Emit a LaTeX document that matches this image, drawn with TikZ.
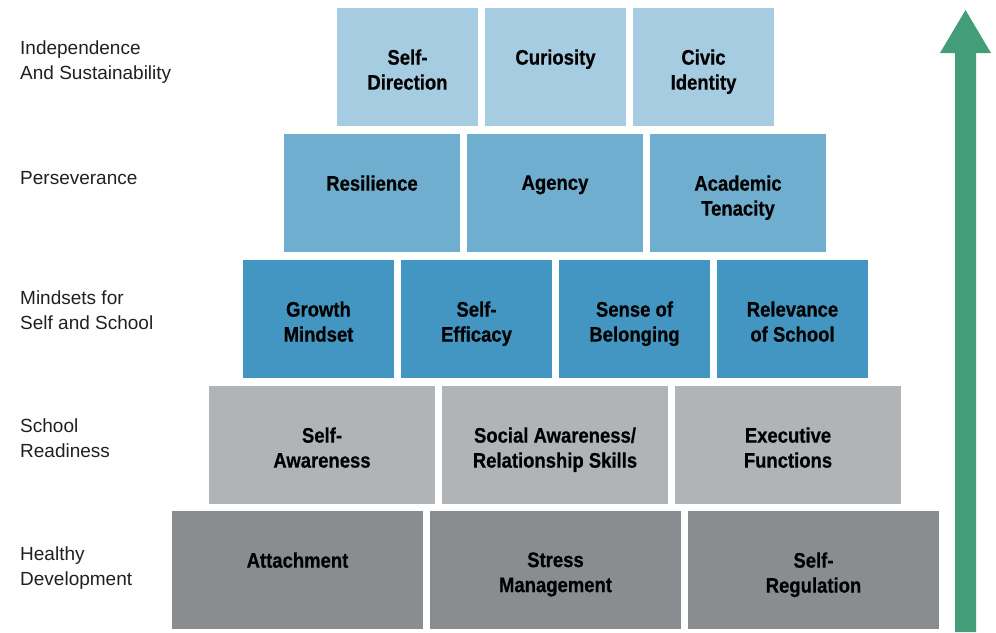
\documentclass[tikz,border=0pt]{standalone}
\usepackage{fontspec}
\setmainfont{Liberation Sans}
\newfontfamily\tilefont{Liberation Sans}[FakeStretch=0.88, FakeBold=0.6]
\usepackage{tikz}
\usetikzlibrary{positioning}

\definecolor{rowone}{RGB}{165,204,225}
\definecolor{rowtwo}{RGB}{111,174,206}
\definecolor{rowthree}{RGB}{67,150,193}
\definecolor{rowfour}{RGB}{177,180,183}
\definecolor{rowfive}{RGB}{138,141,144}
\definecolor{arrowgreen}{RGB}{67,157,121}
\definecolor{labelgray}{RGB}{35,31,32}

\begin{document}
\begin{tikzpicture}[x=1pt, y=-1pt,
		tile/.style={draw=none, minimum height=117.5pt, inner sep=0pt, anchor=north},
		tilename/.style={anchor=north, align=center, inner sep=0pt, yshift=-41.2pt, text=black,
			font=\tilefont\bfseries\fontsize{21}{25}\selectfont},
		level/.style={anchor=north west, align=left, inner sep=0pt, text=labelgray,
			font=\fontsize{19}{24.2}\selectfont}]
				\useasboundingbox (0, 0) rectangle (996, 632);

				% levels
				\node[level] (lindep) at (20, 41) {Independence\\And Sustainability};
				\node[level] (lpers) at (20, 171) {Perseverance};
				\node[level] (lmind) at (20, 291) {Mindsets for\\Self and School};
				\node[level] (lready) at (20, 419) {School\\Readiness};
				\node[level] (lhealth) at (20, 547) {Healthy\\Development};

				% top row
				\node[tile, fill=rowone, minimum width=141pt] (selfdir) at (407.5, 8) {};
				\node[tile, fill=rowone, minimum width=141pt] (curio) at (555.5, 8) {};
				\node[tile, fill=rowone, minimum width=141pt] (civic) at (703.5, 8) {};
				\node[tilename] at (selfdir.north) {Self-\\Direction};
				\node[tilename] at (curio.north) {Curiosity};
				\node[tilename] at (civic.north) {Civic\\Identity};

				\node[tile, fill=rowtwo, minimum width=176pt] (resil) at (372, 134) {};
				\node[tile, fill=rowtwo, minimum width=176pt] (agency) at (555, 134) {};
				\node[tile, fill=rowtwo, minimum width=176pt] (tenacity) at (738, 134) {};
				\node[tilename] at (resil.north) {Resilience};
				\node[tilename] at (agency.north) {Agency};
				\node[tilename] at (tenacity.north) {Academic\\Tenacity};

				\node[tile, fill=rowthree, minimum width=151pt] (growth) at (318.5, 260) {};
				\node[tile, fill=rowthree, minimum width=151pt] (efficacy) at (476.5, 260) {};
				\node[tile, fill=rowthree, minimum width=151pt] (belong) at (634.5, 260) {};
				\node[tile, fill=rowthree, minimum width=151pt] (relevance) at (792.5, 260) {};
				\node[tilename] at (growth.north) {Growth\\Mindset};
				\node[tilename] at (efficacy.north) {Self-\\Efficacy};
				\node[tilename] at (belong.north) {Sense of\\Belonging};
				\node[tilename] at (relevance.north) {Relevance\\of School};

				\node[tile, fill=rowfour, minimum width=226pt] (awareness) at (322, 386) {};
				\node[tile, fill=rowfour, minimum width=226pt] (social) at (555, 386) {};
				\node[tile, fill=rowfour, minimum width=226pt] (exec) at (788, 386) {};
				\node[tilename] at (awareness.north) {Self-\\Awareness};
				\node[tilename] at (social.north) {Social Awareness/\\Relationship Skills};
				\node[tilename] at (exec.north) {Executive\\Functions};

				% base row
				\node[tile, fill=rowfive, minimum width=251pt] (attach) at (297.5, 511) {};
				\node[tile, fill=rowfive, minimum width=251pt] (stress) at (555.5, 511) {};
				\node[tile, fill=rowfive, minimum width=251pt] (selfreg) at (813.5, 511) {};
				\node[tilename] at (attach.north) {Attachment};
				\node[tilename] at (stress.north) {Stress\\Management};
				\node[tilename] at (selfreg.north) {Self-\\Regulation};

				\fill[arrowgreen] (955, 632) -- (955, 53) -- (940, 53) -- (965.5, 10) -- (991, 53) -- (976, 53) -- (976, 632) -- cycle;
			\end{tikzpicture}
\end{document}
